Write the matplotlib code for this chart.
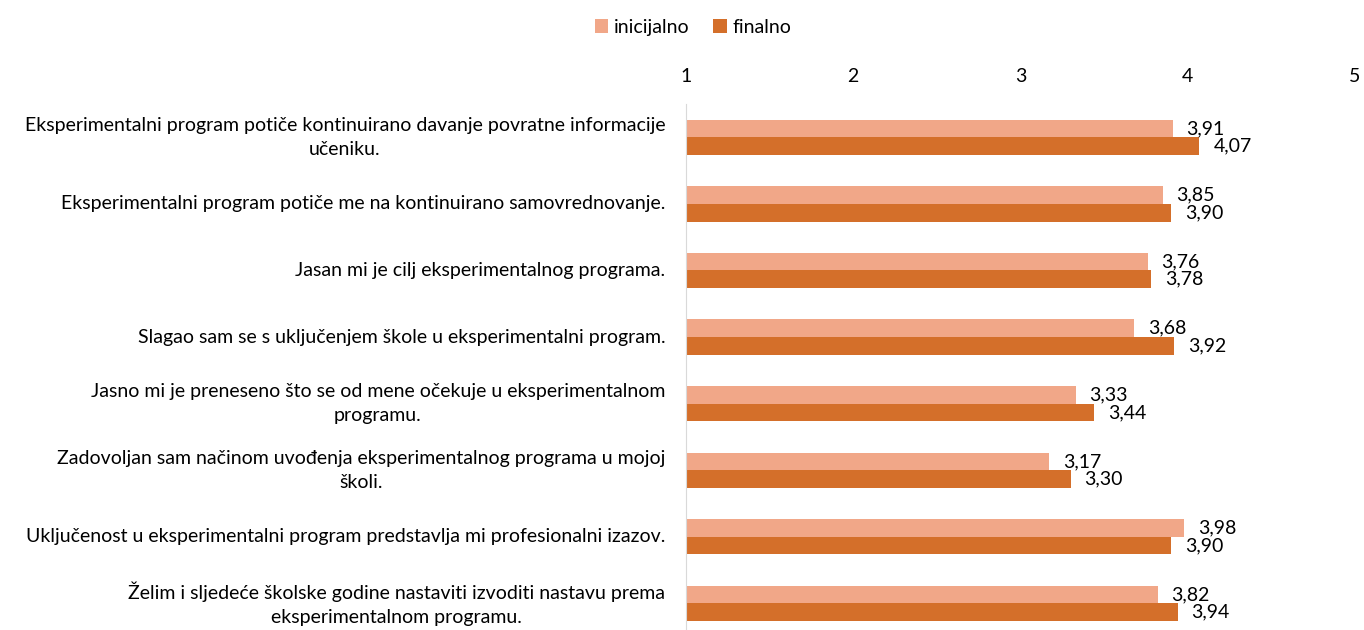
import numpy as np
import matplotlib.pyplot as plt

plt.rcParams['font.family'] = ['Lato', 'DejaVu Sans']

# podaci
kategorije = [
    "Eksperimentalni program potiče kontinuirano davanje povratne informacije\nučeniku.",
    "Eksperimentalni program potiče me na kontinuirano samovrednovanje.",
    "Jasan mi je cilj eksperimentalnog programa.",
    "Slagao sam se s uključenjem škole u eksperimentalni program.",
    "Jasno mi je preneseno što se od mene očekuje u eksperimentalnom\nprogramu.",
    "Zadovoljan sam načinom uvođenja eksperimentalnog programa u mojoj\nškoli.",
    "Uključenost u eksperimentalni program predstavlja mi profesionalni izazov.",
    "Želim i sljedeće školske godine nastaviti izvoditi nastavu prema\neksperimentalnom programu.",
]
inicijalno = [3.91, 3.85, 3.76, 3.68, 3.33, 3.17, 3.98, 3.82]
finalno = [4.07, 3.90, 3.78, 3.92, 3.44, 3.30, 3.90, 3.94]
x_ticks = [1, 2, 3, 4, 5]

c_ini = '#F1A788'
c_fin = '#D46F2A'
fs = 14

fig = plt.figure(figsize=(13.64, 6.3), dpi=100)
ax = fig.add_axes([686 / 1364, 0.0, (1355 - 686) / 1364, 1 - 104 / 630])

y = np.arange(len(kategorije))
h = 0.265
ax.barh(y - h / 2, np.array(inicijalno) - 1, left=1, height=h, color=c_ini, label='inicijalno')
ax.barh(y + h / 2, np.array(finalno) - 1, left=1, height=h, color=c_fin, label='finalno')

for i in range(len(kategorije)):
    ax.annotate(f"{inicijalno[i]:.2f}".replace('.', ','), (inicijalno[i], y[i] - h / 2),
                xytext=(10, 0), textcoords='offset points', va='center', ha='left', fontsize=fs)
    ax.annotate(f"{finalno[i]:.2f}".replace('.', ','), (finalno[i], y[i] + h / 2),
                xytext=(10, 0), textcoords='offset points', va='center', ha='left', fontsize=fs)

ax.set_xlim(1, 5)
ax.set_ylim(7.4, -0.5)
ax.set_xticks(x_ticks)
ax.xaxis.tick_top()
ax.tick_params(axis='x', length=0, labelsize=fs, pad=14)
ax.set_yticks(y)
ax.set_yticklabels(kategorije, fontsize=fs, multialignment='center', linespacing=1.5, va='center')
ax.tick_params(axis='y', length=0, pad=15)
for s in ['top', 'right', 'bottom']:
    ax.spines[s].set_visible(False)
ax.spines['left'].set_color('#d9d9d9')

fig.legend(loc='upper center', bbox_to_anchor=(0.508, 0.998), ncol=2, frameon=False,
           fontsize=fs, handlelength=0.7, handleheight=0.7, handletextpad=0.3, columnspacing=1.2)

fig.savefig('out.png', dpi=100)
